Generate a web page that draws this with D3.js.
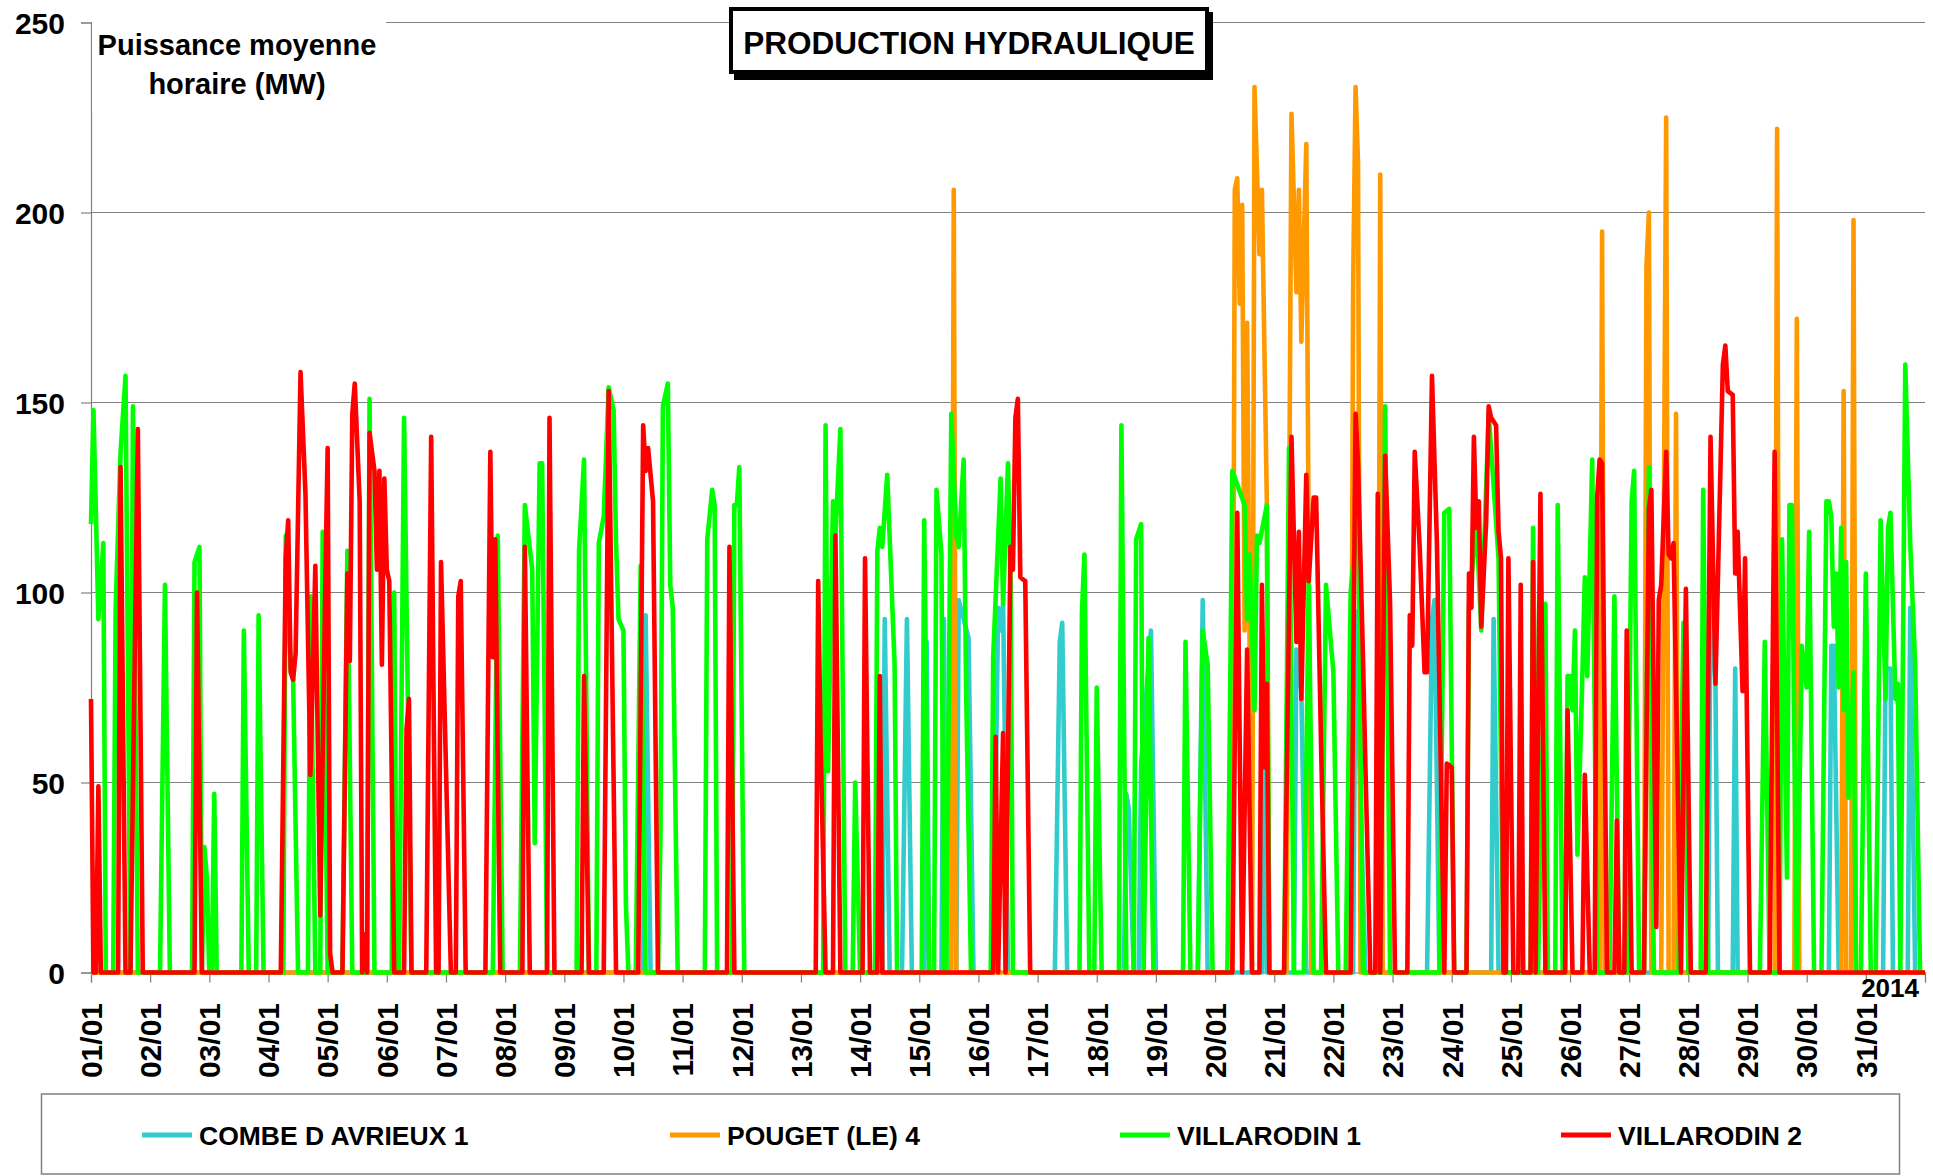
<!DOCTYPE html>
<html>
<head>
<meta charset="utf-8">
<script src="https://cdn.jsdelivr.net/npm/d3@7"></script>
<style>
    body { margin: 0; background: #fff; }
    text { font-family: "Liberation Sans", Arial, sans-serif; font-weight: bold; fill: #000; }
</style>
</head>
<body>
<div id="chart"></div>
<script>
// hours counted from 01/01 00:00, values in MW
let dayLabels = d3.range(1, 32).map(d => (d < 10 ? "0" + d : "" + d) + "/01");
let yTicks = [0, 50, 100, 150, 200, 250];

let combe = [[0,0],[224,0],[225,94],[227,0],[321,0],[322,93],[324,0],[329,0],[331,93],[333,0],
    [338,0],[339,87],[340,0],[345,0],[346,93],[347,0],[351,0],[352,98],[356,88],[358,0],
    [366,0],[368,96],[369,90],[370,97],[372,0],[391,0],[393,87],[394,92],[396,0],
    [419,0],[420,47],[421,43],[423,0],[425,0],[426,55],[430,90],[432,0],[449,0],[451,98],[453,0],
    [475,0],[476,54],[477,0],[488,0],[489,85],[491,74],[493,0],[512,0],[513,95],[516,22],[517,0],
    [542,0],[544,93],[545,98],[547,0],[568,0],[569,93],[571,0],[656,0],[657,100],[659,76],[660,0],
    [666,0],[667,80],[668,0],[705,0],[706,86],[707,86],[709,0],[727,0],[728,80],[730,80],[731,0],
    [737,0],[738,96],[740,0],[744,0]];

let pouget = [[0,0],[349,0],[350,206],[351,0],
    [463,0],[464,206],[465,209],[466,176],[467,202],[468,90],[469,171],[471,0],[472,233],[474,189],[475,206],[477,124],[478,0],
    [485,0],[487,226],[489,179],[490,206],[491,166],[493,218],[495,0],
    [511,0],[512,180],[513,233],[514,213],[515,0],[522,0],[523,210],[524,0],
    [612,0],[613,195],[614,0],[630,0],[631,186],[632,200],[633,0],[637,0],[639,225],[640,0],
    [642,0],[643,147],[644,0],[683,0],[684,222],[685,0],[691,0],[692,172],[693,0],
    [710,0],[711,153],[712,0],[714,0],[715,198],[716,0],[744,0]];

let villarodin1 = [[0,118],[1,148],[3,93],[5,113],[6,0],[9,0],[10,96],[12,137],[14,157],[16,0],[17,149],[19,0],
    [28,0],[30,102],[32,0],[41,0],[42,108],[44,112],[45,0],[46,33],[47,25],[48,0],[49,0],[50,47],[51,0],
    [61,0],[62,90],[64,0],[67,0],[68,94],[70,0],
    [78,0],[79,115],[81,80],[82,77],[84,0],[88,0],[89,99],[91,0],[93,0],[94,116],[96,0],
    [102,0],[104,111],[106,0],[112,0],[113,151],[115,0],[122,0],[123,100],[124,0],[125,0],[127,146],[130,0],
    [163,0],[165,115],[167,0],[174,0],[176,123],[179,106],[180,34],[182,134],[183,134],[184,72],[185,0],
    [197,0],[198,111],[200,135],[202,0],[205,0],[206,113],[208,120],[210,154],[212,148],[213,113],[214,93],[216,90],[217,18],[218,0],
    [221,0],[223,107],[225,0],[230,0],[231,35],[232,149],[234,155],[235,102],[236,96],[238,0],
    [249,0],[250,114],[252,127],[253,123],[254,0],[260,0],[261,123],[262,123],[263,133],[265,0],
    [297,0],[298,144],[299,53],[301,124],[302,115],[304,143],[306,0],[309,0],[310,50],[312,0],
    [318,0],[319,111],[320,117],[321,112],[323,131],[326,81],[327,0],
    [337,0],[338,119],[340,0],[342,0],[343,127],[345,110],[346,0],
    [347,0],[349,147],[351,115],[352,112],[354,135],[355,75],[357,0],
    [365,0],[366,83],[369,130],[370,97],[372,134],[373,106],[374,0],
    [401,0],[402,95],[403,110],[405,0],[407,0],[408,75],[410,0],[417,0],[418,144],[420,0],
    [423,0],[424,114],[426,118],[427,0],[429,88],[431,0],[443,0],[444,87],[446,0],[449,0],[451,90],[453,81],[455,0],
    [461,0],[463,132],[468,123],[469,93],[470,110],[472,69],[473,115],[474,113],[477,123],[478,0],
    [484,0],[486,138],[488,0],[492,0],[494,103],[496,0],[499,0],[501,102],[504,79],[506,0],
    [509,0],[511,100],[514,122],[516,0],[523,0],[525,149],[527,0],[547,0],[549,121],[551,122],[553,0],
    [558,0],[559,96],[562,119],[564,90],[567,147],[571,109],[573,0],
    [584,0],[585,117],[587,0],[590,97],[591,0],[594,0],[595,123],[597,0],
    [598,0],[599,78],[600,78],[601,69],[602,90],[603,31],[605,78],[606,104],[607,78],[609,135],[611,0],
    [616,0],[618,99],[620,0],[623,0],[625,124],[626,132],[628,0],[630,0],[632,133],[634,0],
    [644,0],[646,92],[648,0],[653,0],[654,127],[656,0],[677,0],[679,87],[681,0],
    [685,0],[686,114],[688,25],[689,123],[690,123],[692,0],[694,86],[696,75],[697,116],[699,0],
    [702,0],[704,124],[705,124],[706,120],[707,91],[708,105],[709,75],[710,117],[711,69],[712,108],[713,46],[715,79],[716,0],
    [718,0],[720,105],[722,0],[724,0],[726,119],[728,72],[729,117],[730,121],[732,72],[733,76],[734,0],
    [736,160],[738,113],[740,81],[742,0],[744,0]];

let villarodin2 = [[0,72],[1,0],[2,0],[3,49],[4,0],[11,0],[12,133],[14,0],[16,0],[19,143],[21,0],
    [42,0],[43,100],[45,0],
    [77,0],[79,109],[80,119],[81,79],[82,77],[83,84],[85,158],[87,126],[89,52],[91,107],[93,15],[95,100],[96,138],[97,5],[98,0],
    [102,0],[104,105],[105,82],[106,147],[107,155],[109,124],[110,0],[111,10],[112,0],[113,142],[115,132],[116,106],[117,132],[118,81],[119,130],[120,106],[121,103],[123,0],
    [127,0],[128,64],[129,72],[130,0],[136,0],[138,141],[140,0],[141,0],[142,108],[146,0],
    [148,0],[149,99],[150,103],[152,0],[160,0],[162,137],[163,83],[164,114],[166,0],[175,0],[176,112],[178,0],
    [185,0],[186,146],[188,0],[199,0],[200,78],[202,0],[208,0],[210,153],[213,0],
    [222,0],[224,144],[225,132],[226,138],[228,124],[230,0],[258,0],[259,112],[261,0],
    [294,0],[295,103],[296,60],[298,0],[301,0],[302,115],[304,0],[313,0],[314,109],[316,0],[319,0],[320,78],[321,0],
    [366,0],[367,62],[368,0],[370,63],[371,0],[373,112],[374,106],[375,146],[376,151],[377,104],[379,103],[381,0],
    [463,0],[465,121],[467,0],[469,85],[471,0],[474,0],[475,102],[476,54],[477,76],[478,0],
    [484,0],[487,141],[489,87],[490,116],[491,72],[493,131],[494,103],[496,125],[497,125],[499,60],[501,0],
    [511,0],[513,147],[514,134],[516,83],[517,54],[519,0],[521,0],[522,126],[523,0],[525,136],[527,97],[529,0],
    [534,0],[535,94],[536,86],[537,137],[539,112],[541,79],[542,79],[544,157],[546,113],[549,0],[550,55],[552,54],[553,0],
    [558,0],[559,105],[560,96],[561,141],[562,117],[563,124],[564,91],[566,119],[567,149],[568,146],[570,144],[571,116],[572,109],[573,0],
    [574,0],[575,109],[577,0],[579,0],[580,102],[581,0],[584,0],[585,108],[586,0],[588,126],[590,0],
    [598,0],[599,69],[601,0],[605,0],[606,52],[608,0],[610,0],[611,125],[612,135],[613,134],[615,0],
    [618,0],[619,40],[620,0],[622,0],[623,90],[625,0],
    [630,0],[632,122],[633,127],[635,12],[636,98],[637,102],[639,137],[640,110],[641,109],[642,113],[645,0],[647,101],[649,0],
    [655,0],[657,141],[659,76],[662,160],[663,165],[664,153],[666,152],[667,105],[668,116],[670,74],[671,109],[673,0],
    [681,0],[683,137],[685,0],[744,0]];

let seriesNames = ["COMBE D AVRIEUX 1", "POUGET (LE) 4", "VILLARODIN 1", "VILLARODIN 2"];
let seriesData = [combe, pouget, villarodin1, villarodin2];
let seriesColors = ["#33CCCC", "#FF9900", "#00FF00", "#FF0000"];

let W = 1933, H = 1176;
let svg = d3.select("#chart").append("svg")
    .attr("width", W)
    .attr("height", H);

let x = d3.scaleLinear().domain([0, 744]).range([91, 1925]);
let y = d3.scaleLinear().domain([0, 250]).range([972.5, 22.5]);

// grid lines
svg.append("g")
    .selectAll("line")
    .data(yTicks.filter(d => d > 0))
    .enter().append("line")
    .attr("x1", x(0)).attr("x2", x(744))
    .attr("y1", d => y(d)).attr("y2", d => y(d))
    .attr("stroke", "#808080")
    .attr("stroke-width", 1.2);

// y axis
let yAxis = d3.axisLeft(y).tickValues(yTicks).tickSize(10).tickPadding(16);
svg.append("g")
    .attr("class", "y-axis")
    .attr("transform", `translate(${x(0)},0)`)
    .call(yAxis)
    .call(g => g.selectAll("path, line").attr("stroke", "#808080").attr("stroke-width", 1.2))
    .call(g => g.selectAll("text").style("font-size", "30px").attr("dy", "0.36em"));

// x axis
let xAxis = d3.axisBottom(x).tickValues(d3.range(0, 745, 24)).tickSize(10).tickFormat("");
svg.append("g")
    .attr("class", "x-axis")
    .attr("transform", `translate(0,${y(0)})`)
    .call(xAxis)
    .call(g => g.selectAll("path, line").attr("stroke", "#808080").attr("stroke-width", 1.2));

svg.append("g")
    .selectAll("text")
    .data(dayLabels)
    .enter().append("text")
    .attr("transform", (d, i) => `translate(${x(i * 24)},1003) rotate(-90)`)
    .attr("text-anchor", "end")
    .attr("dy", "0.36em")
    .style("font-size", "30px")
    .text(d => d);

// series lines
let line = d3.line()
    .x(d => x(d[0]))
    .y(d => y(d[1]));

svg.append("g")
    .selectAll("path")
    .data(seriesData)
    .enter().append("path")
    .attr("d", d => line(d))
    .attr("fill", "none")
    .attr("stroke", (d, i) => seriesColors[i])
    .attr("stroke-width", 4.6)
    .attr("stroke-linejoin", "round");

// y label on white box
svg.append("rect")
    .attr("x", x(0) + 1).attr("y", 14)
    .attr("width", 294).attr("height", 96)
    .attr("fill", "#fff");
svg.append("text")
    .attr("x", 237).attr("y", 55)
    .attr("text-anchor", "middle")
    .style("font-size", "29px")
    .text("Puissance moyenne");
svg.append("text")
    .attr("x", 237).attr("y", 94)
    .attr("text-anchor", "middle")
    .style("font-size", "29px")
    .text("horaire (MW)");

// title box with shadow
svg.append("rect")
    .attr("x", 734).attr("y", 12)
    .attr("width", 479).attr("height", 68)
    .attr("fill", "#000");
svg.append("rect")
    .attr("x", 731).attr("y", 9)
    .attr("width", 476).attr("height", 63)
    .attr("fill", "#fff")
    .attr("stroke", "#000")
    .attr("stroke-width", 4);
svg.append("text")
    .attr("x", 969).attr("y", 54)
    .attr("text-anchor", "middle")
    .style("font-size", "31.5px")
    .text("PRODUCTION HYDRAULIQUE");

// year
svg.append("text")
    .attr("x", 1919).attr("y", 997)
    .attr("text-anchor", "end")
    .style("font-size", "26px")
    .text("2014");

// legend
svg.append("rect")
    .attr("x", 41.5).attr("y", 1094)
    .attr("width", 1858).attr("height", 80)
    .attr("fill", "none")
    .attr("stroke", "#808080")
    .attr("stroke-width", 1.5);

let legendX = [142, 670, 1120, 1561];
let legend = svg.append("g")
    .selectAll("g")
    .data(seriesNames)
    .enter().append("g")
    .attr("transform", (d, i) => `translate(${legendX[i]},1135)`);

legend.append("line")
    .attr("x1", 0).attr("x2", 50)
    .attr("stroke", (d, i) => seriesColors[i])
    .attr("stroke-width", 5);

legend.append("text")
    .attr("x", 57)
    .attr("dy", "0.36em")
    .style("font-size", "26.5px")
    .text(d => d);
</script>
</body>
</html>
